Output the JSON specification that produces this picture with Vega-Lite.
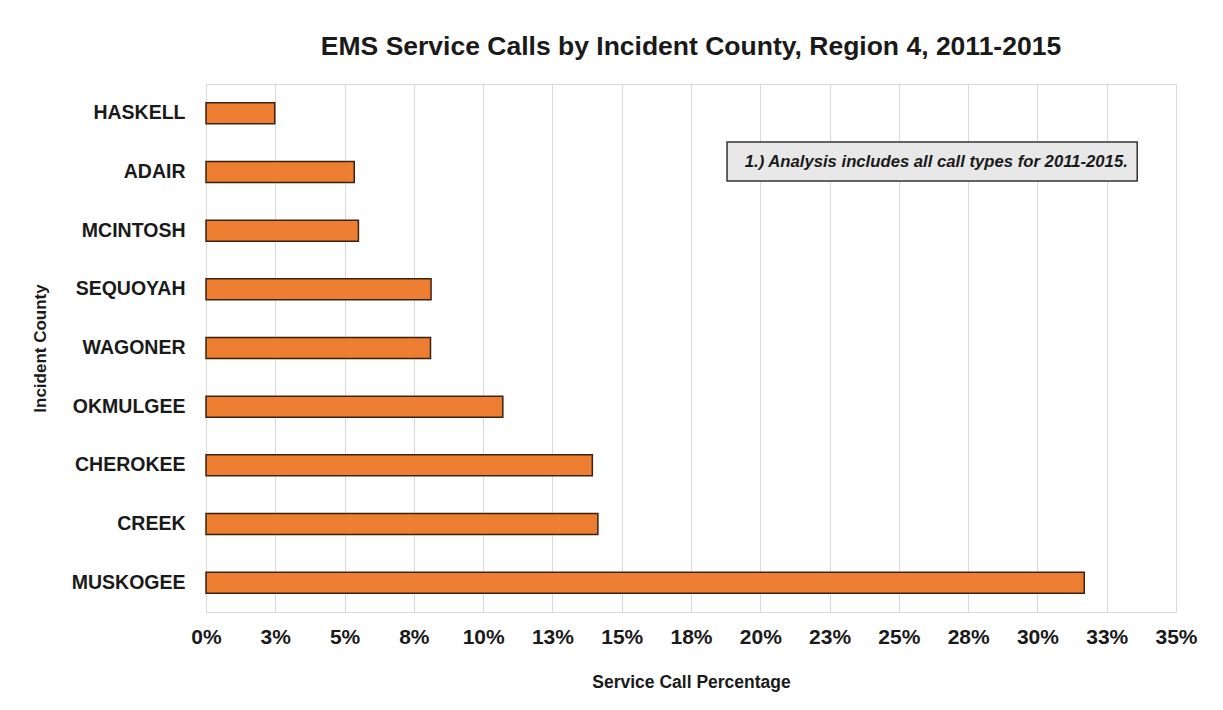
{
  "$schema": "https://vega.github.io/schema/vega-lite/v6.json",
  "width": 970,
  "height": 528,
  "autosize": {"type": "none"},
  "padding": {"left": 206, "top": 84, "right": 47, "bottom": 98},
  "background": "white",
  "title": {
    "text": "EMS Service Calls by Incident County, Region 4, 2011-2015",
    "font": "Liberation Sans",
    "fontSize": 26.5,
    "fontWeight": "bold",
    "color": "#1a1a1a",
    "anchor": "middle",
    "offset": 24
  },
  "datasets": {
    "counties": [
      {"county": "HASKELL", "pct": 2.48},
      {"county": "ADAIR", "pct": 5.35},
      {"county": "MCINTOSH", "pct": 5.5},
      {"county": "SEQUOYAH", "pct": 8.12},
      {"county": "WAGONER", "pct": 8.1},
      {"county": "OKMULGEE", "pct": 10.71},
      {"county": "CHEROKEE", "pct": 13.94},
      {"county": "CREEK", "pct": 14.14},
      {"county": "MUSKOGEE", "pct": 31.69}
    ],
    "note": [
      {"county": "ADAIR", "start": 18.8, "end": 33.6, "mid": 26.35, "text": "1.) Analysis includes all call types for 2011-2015."}
    ]
  },
  "encoding": {
    "y": {
      "field": "county",
      "type": "nominal",
      "scale": {
        "domain": ["HASKELL", "ADAIR", "MCINTOSH", "SEQUOYAH", "WAGONER", "OKMULGEE", "CHEROKEE", "CREEK", "MUSKOGEE"],
        "paddingInner": 0,
        "paddingOuter": 0
      },
      "axis": {
        "title": "Incident County",
        "titleFont": "Liberation Sans",
        "titleFontSize": 17,
        "titleFontWeight": "bold",
        "titleColor": "#1a1a1a",
        "titlePadding": 22,
        "labelFont": "Liberation Sans",
        "labelFontSize": 19.5,
        "labelFontWeight": "bold",
        "labelColor": "#1a1a1a",
        "labelPadding": 21,
        "ticks": false,
        "domain": false,
        "grid": false
      }
    }
  },
  "layer": [
    {
      "data": {"name": "counties"},
      "mark": {"type": "bar", "size": 21, "fill": "#ED7D31", "stroke": "#3b2314", "strokeWidth": 1.5},
      "encoding": {
        "x": {
          "field": "pct",
          "type": "quantitative",
          "scale": {"domain": [0, 35], "nice": false},
          "axis": {
            "title": "Service Call Percentage",
            "titleFont": "Liberation Sans",
            "titleFontSize": 17.5,
            "titleFontWeight": "bold",
            "titleColor": "#1a1a1a",
            "titlePadding": 26,
            "values": [0, 2.5, 5, 7.5, 10, 12.5, 15, 17.5, 20, 22.5, 25, 27.5, 30, 32.5, 35],
            "labelExpr": "round(datum.value) + '%'",
            "labelFont": "Liberation Sans",
            "labelFontSize": 21,
            "labelFontWeight": "bold",
            "labelColor": "#1a1a1a",
            "labelPadding": 14,
            "labelFlush": false,
            "labelOverlap": false,
            "ticks": false,
            "domain": false,
            "grid": true,
            "gridColor": "#d9d9d9",
            "gridWidth": 1
          }
        }
      }
    },
    {
      "data": {"name": "note"},
      "mark": {"type": "bar", "size": 39, "yOffset": -10.5, "fill": "#e8e8e8", "stroke": "#333333", "strokeWidth": 1.5},
      "encoding": {
        "x": {"field": "start", "type": "quantitative"},
        "x2": {"field": "end"}
      }
    },
    {
      "data": {"name": "note"},
      "mark": {"type": "text", "font": "Liberation Sans", "fontSize": 16.7, "fontStyle": "italic", "fontWeight": "bold", "color": "#1a1a1a", "yOffset": -10.5, "align": "center", "baseline": "middle"},
      "encoding": {
        "x": {"field": "mid", "type": "quantitative"},
        "text": {"field": "text"}
      }
    }
  ],
  "config": {
    "view": {"stroke": "#d9d9d9", "strokeWidth": 1}
  }
}
